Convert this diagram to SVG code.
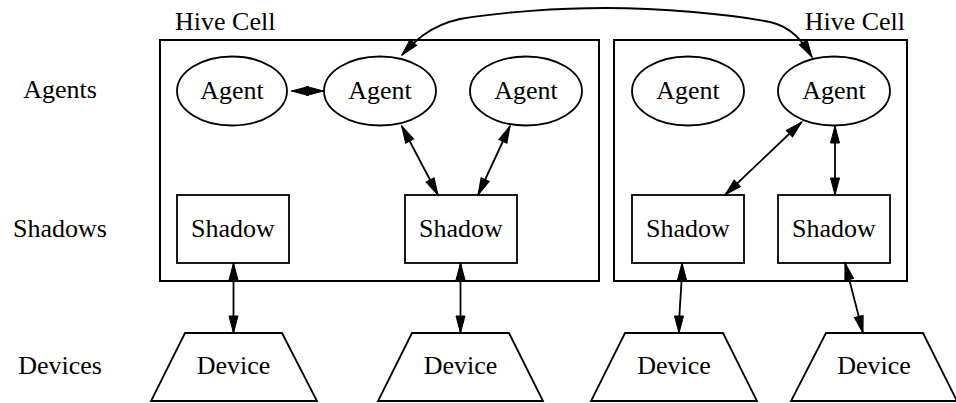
<svg xmlns="http://www.w3.org/2000/svg" width="956" height="403" viewBox="0 0 956 403">
<style>
text{font-family:'Liberation Serif','Times New Roman',Times,'Nimbus Roman','DejaVu Serif',serif;font-size:26px;fill:#000}
.n{fill:none;stroke:#000;stroke-width:1.8}
.c{fill:none;stroke:#000;stroke-width:2}
.e{fill:none;stroke:#000;stroke-width:1.8;marker-start:url(#ah);marker-end:url(#ah)}
.m{text-anchor:middle}
</style>
<defs>
<marker id="ah" markerUnits="userSpaceOnUse" markerWidth="20" markerHeight="12" refX="17" refY="5" orient="auto-start-reverse" viewBox="-1 -1 20 12">
<path d="M0,0.5 L17,5 L0,9.5 Z" fill="#000" stroke="#000" stroke-width="1"/>
</marker>
</defs>
<g id="labels">
<text class="m" x="60" y="98">Agents</text>
<text class="m" x="60" y="237">Shadows</text>
<text class="m" x="60" y="374">Devices</text>
</g>
<g id="cluster1">
<rect class="c" x="160" y="40" width="439" height="241"/>
<text x="175" y="30">Hive Cell</text>
</g>
<g id="cluster2">
<rect class="c" x="614" y="40" width="293" height="241"/>
<text x="905" y="30" text-anchor="end">Hive Cell</text>
</g>
<g id="agent1"><ellipse class="n" cx="232" cy="91" rx="55" ry="34.5"/><text class="m" x="232" y="99">Agent</text></g>
<g id="agent2"><ellipse class="n" cx="380" cy="91" rx="56" ry="34.5"/><text class="m" x="380" y="99">Agent</text></g>
<g id="agent3"><ellipse class="n" cx="526" cy="91" rx="56" ry="34.5"/><text class="m" x="526" y="99">Agent</text></g>
<g id="agent4"><ellipse class="n" cx="688" cy="91" rx="56" ry="34.5"/><text class="m" x="688" y="99">Agent</text></g>
<g id="agent5"><ellipse class="n" cx="834" cy="91" rx="56" ry="34.5"/><text class="m" x="834" y="99">Agent</text></g>
<g id="shadow1"><rect class="n" x="177" y="195" width="112" height="68"/><text class="m" x="233" y="237">Shadow</text></g>
<g id="shadow2"><rect class="n" x="405" y="195" width="112" height="68"/><text class="m" x="461" y="237">Shadow</text></g>
<g id="shadow3"><rect class="n" x="632" y="195" width="112" height="68"/><text class="m" x="688" y="237">Shadow</text></g>
<g id="shadow4"><rect class="n" x="778" y="195" width="112" height="68"/><text class="m" x="834" y="237">Shadow</text></g>
<g id="device1"><polygon class="n" points="185,333 282,333 317,401 151,401"/><text class="m" x="233.5" y="374">Device</text></g>
<g id="device2"><polygon class="n" points="412,333 509,333 543,401 378,401"/><text class="m" x="460.5" y="374">Device</text></g>
<g id="device3"><polygon class="n" points="625,333 723,333 757,401 591,401"/><text class="m" x="674" y="374">Device</text></g>
<g id="device4"><polygon class="n" points="826,333 923,333 957,401 791,401"/><text class="m" x="874" y="374">Device</text></g>
<g id="connectors">
<path class="e" d="M291.5,91 L323.5,91"/>
<path class="e" d="M402,55 C412,44 428,26 460,19 C500,12 560,8 605,8 C660,8 730,14 770,22 C792,27 803,42 812,57"/>
<path class="e" d="M401.7,126 L438,195"/>
<path class="e" d="M510,126 L478,195"/>
<path class="e" d="M801.7,122 L725,195"/>
<path class="e" d="M835,126 L835,195"/>
<path class="e" d="M233.5,263 L233.5,333"/>
<path class="e" d="M460.5,263 L460.5,333"/>
<path class="e" d="M682,263 C682,290 679,305 679,333"/>
<path class="e" d="M845,263 L863,333"/>
</g>
</svg>
